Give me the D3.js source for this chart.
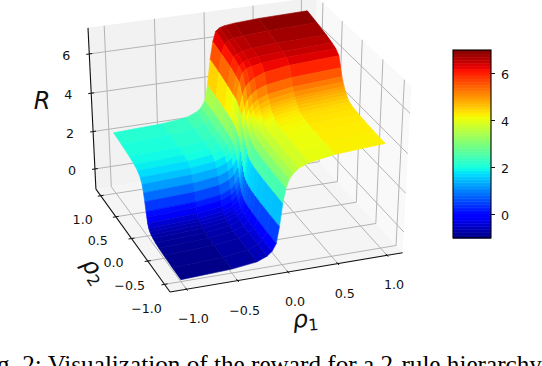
<!DOCTYPE html>
<html>
<head>
<meta charset="utf-8">
<script src="https://cdn.jsdelivr.net/npm/d3@7"></script>
<style>
  html, body { margin: 0; padding: 0; background: #fff; overflow: hidden; }
  svg { display: block; }
  text { font-family: "DejaVu Sans", sans-serif; fill: #111; }
</style>
</head>
<body>
<script>
const w = 542;
const h = 366;

// grid of the surface
const rho1 = [-1, -0.5, -0.25, -0.15, -0.1, -0.06, -0.03, 0, 0.03, 0.06, 0.1, 0.15, 0.25, 0.5, 1];
const rho2 = [-1, -0.75, -0.5, -0.35, -0.25, -0.17, -0.12, -0.08, -0.05, -0.02, 0, 0.02, 0.05, 0.08, 0.12, 0.17, 0.25, 0.35, 0.5, 0.75, 1];

// one row per rho2 value, one column per rho1 value
const reward = [
  [-1, -0.89, -0.73, -0.52, -0.31, 0.06, 0.91, 2.07, 2.82, 3.24, 3.5, 3.72, 3.93, 4.14, 4.3],
  [-0.98, -0.87, -0.71, -0.5, -0.29, 0.08, 0.93, 2.1, 2.84, 3.27, 3.53, 3.75, 3.96, 4.17, 4.33],
  [-0.95, -0.84, -0.68, -0.47, -0.26, 0.11, 0.96, 2.14, 2.88, 3.31, 3.57, 3.79, 4, 4.21, 4.37],
  [-0.92, -0.81, -0.65, -0.44, -0.23, 0.15, 1, 2.17, 2.92, 3.34, 3.61, 3.82, 4.04, 4.25, 4.41],
  [-0.88, -0.77, -0.61, -0.4, -0.19, 0.19, 1.04, 2.21, 2.96, 3.38, 3.65, 3.86, 4.08, 4.29, 4.45],
  [-0.82, -0.71, -0.55, -0.34, -0.13, 0.24, 1.1, 2.27, 3.01, 3.44, 3.7, 3.91, 4.13, 4.34, 4.5],
  [-0.76, -0.65, -0.49, -0.28, -0.07, 0.3, 1.15, 2.32, 3.06, 3.49, 3.75, 3.97, 4.18, 4.39, 4.55],
  [-0.68, -0.57, -0.41, -0.2, 0.01, 0.39, 1.24, 2.41, 3.16, 3.58, 3.85, 4.06, 4.28, 4.49, 4.65],
  [-0.58, -0.47, -0.31, -0.1, 0.11, 0.49, 1.34, 2.51, 3.26, 3.68, 3.95, 4.16, 4.38, 4.59, 4.75],
  [-0.38, -0.27, -0.11, 0.1, 0.31, 0.69, 1.54, 2.71, 3.36, 3.78, 4.05, 4.26, 4.48, 4.69, 4.85],
  [-0.1, 0.01, 0.16, 0.37, 0.58, 0.95, 1.79, 2.85, 3.48, 3.9, 4.16, 4.37, 4.58, 4.79, 4.95],
  [0.15, 0.25, 0.41, 0.62, 0.83, 1.19, 2.02, 3.0, 3.59, 4.01, 4.27, 4.48, 4.69, 4.89, 5.05],
  [0.6, 0.7, 0.85, 1.05, 1.26, 1.61, 2.42, 3.25, 3.81, 4.21, 4.46, 4.66, 4.87, 5.07, 5.22],
  [1, 1.1, 1.25, 1.44, 1.64, 1.98, 2.76, 3.55, 4.05, 4.44, 4.69, 4.88, 5.08, 5.27, 5.42],
  [1.35, 1.45, 1.59, 1.78, 1.97, 2.3, 3.06, 4.0, 4.47, 4.85, 5.09, 5.28, 5.47, 5.66, 5.8],
  [1.6, 1.69, 1.83, 2.02, 2.2, 2.53, 3.27, 4.35, 5, 5.4, 5.62, 5.8, 6, 6.18, 6.3],
  [1.78, 1.87, 2.01, 2.2, 2.38, 2.7, 3.44, 4.62, 5.5, 5.95, 6.12, 6.22, 6.3, 6.42, 6.5],
  [1.88, 1.97, 2.11, 2.3, 2.48, 2.8, 3.54, 4.72, 5.62, 6.1, 6.26, 6.36, 6.44, 6.52, 6.6],
  [1.97, 2.06, 2.2, 2.39, 2.58, 2.91, 3.65, 4.85, 5.78, 6.25, 6.4, 6.5, 6.57, 6.65, 6.72],
  [2.07, 2.17, 2.31, 2.5, 2.69, 3.03, 3.79, 5.05, 5.95, 6.42, 6.58, 6.66, 6.72, 6.8, 6.87],
  [2.15, 2.25, 2.39, 2.59, 2.78, 3.12, 3.9, 5.2, 6.1, 6.6, 6.75, 6.82, 6.88, 6.95, 7]
];

const rhoTicks = [-1, -0.5, 0, 0.5, 1];
const rewardTicks = [0, 2, 4, 6];
const barTicks = [0, 2, 4, 6];
const caption = "Fig. 2: Visualization of the reward for a 2-rule hierarchy";

// jet colormap stops
const jetR = [[0, 0], [0.35, 0], [0.66, 1], [0.89, 1], [1, 0.5]];
const jetG = [[0, 0], [0.125, 0], [0.375, 1], [0.64, 1], [0.91, 0], [1, 0]];
const jetB = [[0, 0.5], [0.11, 1], [0.34, 1], [0.65, 0], [1, 0]];

const channel = (stops) => d3.scaleLinear().domain(stops.map((s) => s[0])).range(stops.map((s) => s[1] * 255));
const chR = channel(jetR), chG = channel(jetG), chB = channel(jetB);
const colorNorm = d3.scaleLinear().domain([-1, 7]).range([0, 1]).clamp(true);
const jet = (v) => {
  const t = colorNorm(v);
  return d3.rgb(chR(t), chG(t), chB(t)).formatHex();
};

// data to unit box
const xLim = [-1.16, 1.16];
const yLim = [-1.16, 1.16];
const zLim = [-1.1, 7.3];
const xBox = d3.scaleLinear().domain(xLim).range([-0.5, 0.5]);
const yBox = d3.scaleLinear().domain(yLim).range([-0.5, 0.5]);
const zBox = d3.scaleLinear().domain(zLim).range([-0.5, 0.5]);

// camera, same model as mplot3d
const elev = 32 * Math.PI / 180;
const azim = -110 * Math.PI / 180;
const dist = 10;
const n = [Math.cos(elev) * Math.cos(azim), Math.cos(elev) * Math.sin(azim), Math.sin(elev)];
const u = [-Math.sin(azim), Math.cos(azim), 0];
const v = [-Math.sin(elev) * Math.cos(azim), -Math.sin(elev) * Math.sin(azim), Math.cos(elev)];
const dot = (a, b) => a[0] * b[0] + a[1] * b[1] + a[2] * b[2];
const kx = 2455, ky = 1930, tx = 245.5, ty = 140.4;

function project(x, y, z) {
  const p = [xBox(x), yBox(y), zBox(z)];
  const d = dist - dot(n, p);
  return [tx + kx * dot(u, p) / d, ty - ky * dot(v, p) / d];
}

const svg = d3.select("body").append("svg").attr("width", w).attr("height", h);
const path = (pts) => "M" + pts.map((p) => p[0].toFixed(2) + "," + p[1].toFixed(2)).join("L");

// panes
const [x0, x1] = xLim, [y0, y1] = yLim, [z0, z1] = zLim;
const panes = [
  { fill: "#f2f2f2", pts: [[x0, y1, z0], [x1, y1, z0], [x1, y1, z1], [x0, y1, z1]] },
  { fill: "#f9f9f9", pts: [[x1, y0, z0], [x1, y1, z0], [x1, y1, z1], [x1, y0, z1]] },
  { fill: "#f5f5f5", pts: [[x0, y0, z0], [x1, y0, z0], [x1, y1, z0], [x0, y1, z0]] }
];
svg.selectAll("path.pane").data(panes).enter().append("path")
  .attr("class", "pane")
  .attr("d", (d) => path(d.pts.map((p) => project(...p))) + "Z")
  .attr("fill", (d) => d.fill);

// grid lines on the floor and the walls
const gridLines = [];
rhoTicks.forEach((t) => gridLines.push([[t, y0, z0], [t, y1, z0], [t, y1, z1]]));
rhoTicks.forEach((t) => gridLines.push([[x0, t, z0], [x1, t, z0], [x1, t, z1]]));
rewardTicks.forEach((t) => gridLines.push([[x0, y1, t], [x1, y1, t], [x1, y0, t]]));
svg.selectAll("path.grid").data(gridLines).enter().append("path")
  .attr("class", "grid")
  .attr("d", (d) => path(d.map((p) => project(...p))))
  .attr("fill", "none")
  .attr("stroke", "#b4b4b4")
  .attr("stroke-width", 1);

// axis lines
const axisLines = [
  [[x0, y0, z0], [x1, y0, z0]],
  [[x0, y0, z0], [x0, y1, z0]],
  [[x0, y1, z0], [x0, y1, z1]]
];
svg.selectAll("path.axis").data(axisLines).enter().append("path")
  .attr("class", "axis")
  .attr("d", (d) => path(d.map((p) => project(...p))))
  .attr("stroke", "#111")
  .attr("stroke-width", 1.1);

// tick stubs
const stubs = [];
rhoTicks.forEach((t) => stubs.push([[t, y0 - 0.03, z0], [t, y0 + 0.03, z0]]));
rhoTicks.forEach((t) => stubs.push([[x0 - 0.03, t, z0], [x0 + 0.03, t, z0]]));
rewardTicks.forEach((t) => stubs.push([[x0 - 0.03, y1, t], [x0 + 0.03, y1, t]]));
svg.selectAll("path.stub").data(stubs).enter().append("path")
  .attr("class", "stub")
  .attr("d", (d) => path(d.map((p) => project(...p))))
  .attr("stroke", "#111")
  .attr("stroke-width", 1);

// surface facets, far corner first so nearer ones paint over
const faces = [];
d3.range(rho2.length - 2, -1, -1).forEach((j) => {
  d3.range(rho1.length - 2, -1, -1).forEach((i) => {
    const corners = [[i, j], [i + 1, j], [i + 1, j + 1], [i, j + 1]];
    faces.push({
      pts: corners.map(([a, b]) => project(rho1[a], rho2[b], reward[b][a])),
      value: d3.mean(corners, ([a, b]) => reward[b][a])
    });
  });
});
svg.selectAll("path.face").data(faces).enter().append("path")
  .attr("class", "face")
  .attr("d", (d) => path(d.pts) + "Z")
  .attr("fill", (d) => jet(d.value))
  .attr("stroke", (d) => jet(d.value))
  .attr("stroke-width", 0.6);

// tick labels
const fmt = d3.format(".1f");
const minus = (s) => s.replace("-", "\u2212");
const labelSize = 12.7;
svg.selectAll("text.xt").data(rhoTicks).enter().append("text")
  .attr("class", "xt")
  .attr("x", (d) => project(d, y0, z0)[0] + 7)
  .attr("y", (d) => project(d, y0, z0)[1] + 34)
  .attr("text-anchor", "middle").attr("font-size", labelSize)
  .text((d) => minus(fmt(d)));
svg.selectAll("text.yt").data(rhoTicks).enter().append("text")
  .attr("class", "yt")
  .attr("x", (d) => project(x0, d, z0)[0] - 18)
  .attr("y", (d) => project(x0, d, z0)[1] + 28.5)
  .attr("text-anchor", "middle").attr("font-size", labelSize)
  .text((d) => minus(fmt(d)));
svg.selectAll("text.zt").data(rewardTicks).enter().append("text")
  .attr("class", "zt")
  .attr("x", (d) => project(x0, y1, d)[0] - 23)
  .attr("y", (d) => project(x0, y1, d)[1] + 6)
  .attr("text-anchor", "middle").attr("font-size", labelSize)
  .text((d) => d);

// axis titles
svg.append("text").attr("x", 42).attr("y", 109)
  .attr("text-anchor", "middle").attr("font-size", 24).attr("font-style", "italic").text("R");
const rhoLabel = (sel, sub) => {
  sel.attr("text-anchor", "middle").attr("font-size", 24).attr("font-style", "italic").text("\u03c1");
  sel.append("tspan").attr("dy", 4).attr("font-size", 16).attr("font-style", "normal").text(sub);
};
svg.append("text").attr("transform", "translate(306,327) rotate(-5)").call(rhoLabel, "1");
svg.append("text").attr("transform", "translate(88,275) rotate(57)").call(rhoLabel, "2");

// colorbar
const barY = d3.scaleLinear().domain([-1, 7]).range([238, 50]);
const barLevels = d3.range(-1, 7, 8 / 128);
svg.selectAll("rect.level").data(barLevels).enter().append("rect")
  .attr("class", "level")
  .attr("x", 453)
  .attr("width", 38)
  .attr("y", (d) => barY(d + 8 / 128))
  .attr("height", (d) => barY(d) - barY(d + 8 / 128) + 0.5)
  .attr("fill", (d) => jet(d + 4 / 128));
svg.append("rect").attr("x", 453).attr("y", 50).attr("width", 38).attr("height", 188)
  .attr("fill", "none").attr("stroke", "#000").attr("stroke-width", 1.1);
const barTick = svg.selectAll("g.bt").data(barTicks).enter().append("g")
  .attr("class", "bt")
  .attr("transform", (d) => `translate(491,${barY(d)})`);
barTick.append("line").attr("x2", 4).attr("stroke", "#111");
barTick.append("text").attr("x", 14).attr("y", 5)
  .attr("text-anchor", "middle").attr("font-size", labelSize)
  .text((d) => d);

// paper caption, cut by the bottom of the picture
svg.append("text").attr("x", -24).attr("y", 373)
  .style("font-family", "'Liberation Serif', serif").style("fill", "#000")
  .attr("font-size", 25.2).text(caption);
</script>
</body>
</html>
